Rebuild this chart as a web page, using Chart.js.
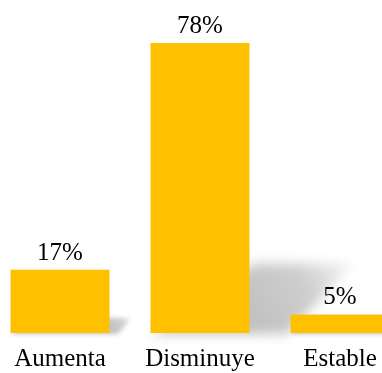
<!DOCTYPE html>
<html>
<head>
<meta charset="utf-8">
<script src="https://cdn.jsdelivr.net/npm/chart.js@4"></script>
<style>
  html, body { margin: 0; padding: 0; background: #fff; overflow: hidden; }
  #wrap { position: absolute; left: -10px; top: 0; width: 420px; height: 373px; }
</style>
</head>
<body>
<div id="wrap"><canvas id="chart"></canvas></div>
<script>
const categories = ['Aumenta', 'Disminuye', 'Estable'];
const values = [17, 78, 5];

const FONT = '"Liberation Serif", "Times New Roman", serif';

// Soft perspective shadow cast behind each bar towards the lower right
const barShadow = {
  id: 'barShadow',
  beforeDatasetsDraw(chart) {
    const ctx = chart.ctx;
    chart.getDatasetMeta(0).data.forEach(el => {
      const { x, y, base, width } = el.getProps(['x', 'y', 'base', 'width'], true);
      const h = base - y;
      const left = x - width / 2, right = x + width / 2;
      const dx = 0.36 * h, dy = 0.24 * h;
      ctx.save();
      ctx.filter = 'blur(' + Math.max(2, h * 0.02) + 'px)';
      const g = ctx.createLinearGradient(right, base, right + dx, base - dy);
      g.addColorStop(0, 'rgba(0,0,0,0.25)');
      g.addColorStop(0.6, 'rgba(0,0,0,0.19)');
      g.addColorStop(1, 'rgba(0,0,0,0.03)');
      ctx.fillStyle = g;
      ctx.beginPath();
      ctx.moveTo(left, base + 1);
      ctx.lineTo(right + 0.13 * h, base + 1);
      ctx.lineTo(right + dx, base - dy);
      ctx.lineTo(left + dx, base - dy);
      ctx.closePath();
      ctx.fill();
      ctx.restore();
    });
  }
};

// Percentage labels above each bar
const valueLabels = {
  id: 'valueLabels',
  afterDatasetsDraw(chart) {
    const ctx = chart.ctx;
    const ds = chart.data.datasets[0];
    chart.getDatasetMeta(0).data.forEach((el, i) => {
      ctx.save();
      ctx.font = '25px ' + FONT;
      ctx.fillStyle = '#000';
      ctx.textAlign = 'center';
      ctx.textBaseline = 'alphabetic';
      ctx.fillText(ds.data[i] + '%', el.x, el.y - 10);
      ctx.restore();
    });
  }
};

new Chart(document.getElementById('chart'), {
  type: 'bar',
  data: {
    labels: categories,
    datasets: [{
      data: values,
      backgroundColor: '#FFC000',
      borderWidth: 0,
      barPercentage: 0.707,
      categoryPercentage: 1
    }]
  },
  options: {
    responsive: true,
    maintainAspectRatio: false,
    animation: false,
    layout: { padding: { top: 43, left: 0, right: 0, bottom: 0 } },
    plugins: { legend: { display: false }, tooltip: { enabled: false } },
    scales: {
      x: {
        grid: { display: false, drawTicks: false },
        border: { display: false },
        ticks: { color: '#000', font: { family: FONT, size: 25 }, padding: 11, maxRotation: 0 },
        afterFit(scale) { scale.height = 40; }
      },
      y: {
        display: false,
        min: 0,
        max: 78
      }
    }
  },
  plugins: [barShadow, valueLabels]
});
</script>
</body>
</html>
